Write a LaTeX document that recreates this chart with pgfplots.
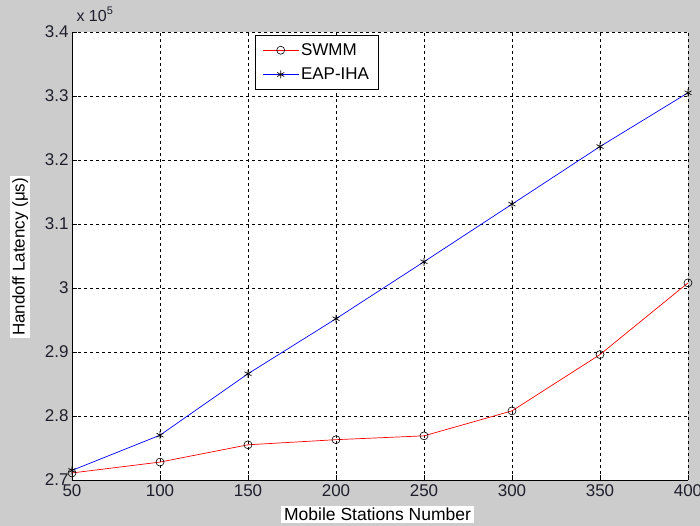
\documentclass[border=0pt]{standalone}
\usepackage{pgfplots}
\pgfplotsset{compat=1.18}
\usepackage{fontspec}
\setmainfont{Liberation Sans}
\definecolor{figbg}{RGB}{204,204,204}
\definecolor{ticktext}{RGB}{30,30,45}
\begin{document}
\begin{tikzpicture}
\useasboundingbox (-72pt,-46pt) rectangle (628pt,480pt);
\fill[figbg] (-72pt,-46pt) rectangle (628pt,480pt);
\begin{axis}[
  scale only axis, width=616pt, height=448pt,
  xmin=50, xmax=400, ymin=2.7, ymax=3.4,
  xtick={50,100,...,400},
  ytick={2.7,2.8,2.9,3.0,3.1,3.2,3.3,3.4},
  axis background/.style={fill=white},
  axis lines=left,
  axis line style={-, black, line width=0.8pt},
  tick align=inside, major tick length=5pt,
  tick style={black, line width=0.5pt},
  grid=major,
  major grid style={black, dash pattern=on 3pt off 3pt, line width=0.6pt},
  font=\fontsize{17}{19}\selectfont,
  tick label style={text=ticktext, font=\fontsize{17}{19}\selectfont},
  /pgf/number format/assume math mode=true,
  yticklabel style={/pgf/number format/fixed, /pgf/number format/precision=1},
  xticklabel style={yshift=-1pt},
  xlabel={Mobile Stations Number},
  ylabel={Handoff Latency (μs)},
  xlabel style={at={(axis description cs:0.496,-0.057)}, anchor=north, fill=white, inner xsep=3pt, inner ysep=2pt, font=\fontsize{17.5}{19}\selectfont},
  ylabel style={at={(axis description cs:-0.084,0.498)}, anchor=center, fill=white, inner sep=2pt, font=\fontsize{17}{19}\selectfont},
  legend style={at={(axis description cs:0.297,0.993)}, anchor=north west, draw=black, line width=0.8pt, fill=white, font=\fontsize{17}{19}\selectfont, row sep=7pt, inner xsep=7pt, inner ysep=6pt, /tikz/every even column/.append style={column sep=4pt}},
  legend cell align=left,
  legend image code/.code={\draw[mark repeat=2,mark phase=2,#1] plot coordinates {(0pt,0pt) (18pt,0pt) (36pt,0pt)};},
  clip=false,
]
\addplot[red, line width=0.7pt, mark=o, mark size=4pt, mark options={black, line width=0.6pt}] coordinates {
 (50,2.711) (100,2.728) (150,2.755) (200,2.763) (250,2.769) (300,2.808) (350,2.896) (400,3.008)
};
\addlegendentry{SWMM}
\addplot[blue, line width=0.7pt, mark=asterisk, mark size=4pt, mark options={black, line width=0.7pt}] coordinates {
 (50,2.715) (100,2.770) (150,2.866) (200,2.952) (250,3.041) (300,3.131) (350,3.221) (400,3.305)
};
\addlegendentry{EAP-IHA}
\end{axis}
\node[anchor=base west, font=\fontsize{16}{18}\selectfont, text=ticktext] at (1pt,458pt) {x 10\raisebox{7pt}{\fontsize{11}{12}\selectfont 5}};
\end{tikzpicture}
\end{document}
